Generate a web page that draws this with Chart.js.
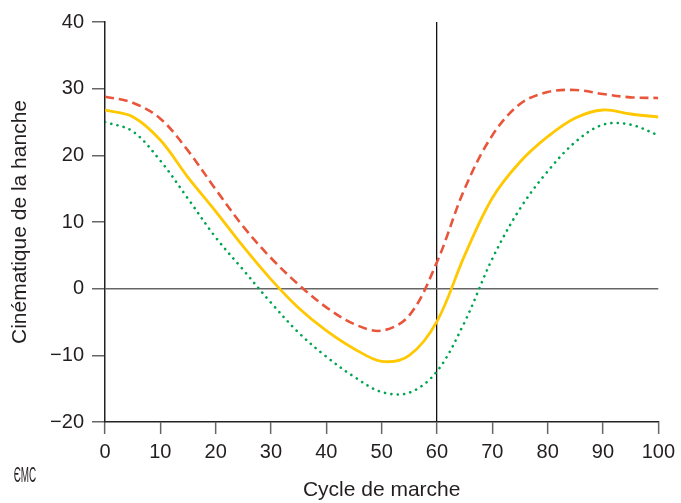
<!DOCTYPE html>
<html lang="fr">
<head>
    <meta charset="UTF-8">
    <title>Cinématique de la hanche</title>
    <script src="https://cdn.jsdelivr.net/npm/chart.js"></script>
    <style>
        html, body { margin: 0; padding: 0; background: #fff; }
        #wrap { width: 681px; height: 503px; }
    </style>
</head>
<body>
    <div id="wrap"><canvas id="hip-chart" width="681" height="503"></canvas></div>

    <script>
        // Cycle de marche (%)
        const cycle = [0, 5, 10, 15, 20, 25, 30, 35, 40, 45, 50, 55, 60, 65, 70, 75, 80, 85, 90, 95, 100];
        // courbe haute (tirets rouges)
        const upper = [28.8, 27.9, 25.5, 20.7, 14.9, 9.3, 4.6, 0.6, -2.8, -5.3, -6.3, -4.0, 4.0, 15.0, 23.0, 27.7, 29.5, 29.8, 29.2, 28.7, 28.6];
        // courbe moyenne (jaune)
        const middle = [26.8, 25.8, 22.3, 16.7, 11.6, 6.3, 1.4, -2.9, -6.3, -9.0, -10.9, -10.0, -4.9, 5.0, 13.6, 19.0, 22.8, 25.6, 26.8, 26.2, 25.75];
        // courbe basse (pointillés verts)
        const lower = [25.0, 23.6, 19.2, 13.5, 7.7, 2.8, -2.1, -6.6, -10.2, -13.2, -15.5, -15.6, -12.4, -5.0, 4.5, 12.0, 17.6, 22.0, 24.6, 24.6, 23.0];
        const yTicks = [-20, -10, 0, 10, 20, 30, 40];
        const xTicks = [0, 10, 20, 30, 40, 50, 60, 70, 80, 90, 100];

        const toPoints = arr => cycle.map((x, i) => ({ x: x, y: arr[i] }));
        const tickFont = { family: '"Liberation Sans", Arial, sans-serif', size: 20 };
        const titleFont = { family: '"Liberation Sans", Arial, sans-serif', size: 21 };

        // petit logo EMC en bas à gauche
        const logoPlugin = {
            id: 'logo',
            afterDraw(chart) {
                const c = chart.ctx;
                c.save();
                c.fillStyle = '#231f20';
                c.font = '22px "Liberation Sans", Arial, sans-serif';
                c.textAlign = 'center';
                c.textBaseline = 'middle';
                c.translate(25, 476);
                c.scale(0.45, 1);
                c.fillText('ЄMC', 0, 0);
                c.restore();
            }
        };

        new Chart(document.getElementById('hip-chart'), {
            type: 'line',
            data: {
                datasets: [
                    {
                        data: toPoints(upper),
                        borderColor: '#e8553a',
                        borderWidth: 2.6,
                        borderDash: [9, 5],
                        pointRadius: 0,
                        tension: 0.35
                    },
                    {
                        data: toPoints(middle),
                        borderColor: '#ffc800',
                        borderWidth: 2.8,
                        pointRadius: 0,
                        tension: 0.35
                    },
                    {
                        data: toPoints(lower),
                        borderColor: '#00a550',
                        borderWidth: 2.6,
                        borderDash: [0.1, 6.3],
                        borderCapStyle: 'round',
                        pointRadius: 0,
                        tension: 0.35
                    }
                ]
            },
            options: {
                responsive: false,
                animation: false,
                layout: { padding: { top: 22, right: 21, left: 0, bottom: 0 } },
                plugins: { legend: { display: false }, tooltip: { enabled: false } },
                scales: {
                    x: {
                        type: 'linear',
                        min: 0,
                        max: 100,
                        afterBuildTicks: s => { s.ticks = xTicks.map(v => ({ value: v })); },
                        afterFit: s => { s.height = 81; },
                        ticks: { font: tickFont, color: '#231f20', padding: 6, maxRotation: 0 },
                        grid: {
                            drawOnChartArea: true,
                            tickLength: 12,
                            tickColor: '#666',
                            tickWidth: 1.5,
                            color: ctx => ctx.tick && ctx.tick.value === 60 ? '#111' : 'rgba(0,0,0,0)',
                            lineWidth: 1.3
                        },
                        border: { display: true, color: '#222', width: 1.5 },
                        title: { display: true, text: 'Cycle de marche', font: titleFont, color: '#231f20', padding: { top: 4, bottom: 0 } }
                    },
                    y: {
                        min: -20,
                        max: 40,
                        afterBuildTicks: s => { s.ticks = yTicks.map(v => ({ value: v })); },
                        afterFit: s => { s.width = 105; },
                        ticks: { font: tickFont, color: '#231f20', padding: 8,
                            callback: v => v < 0 ? '\u2212' + Math.abs(v) : v },
                        grid: {
                            drawOnChartArea: true,
                            tickLength: 13,
                            tickColor: '#666',
                            tickWidth: 1.5,
                            color: ctx => ctx.tick && ctx.tick.value === 0 ? '#666' : 'rgba(0,0,0,0)',
                            lineWidth: 1.5
                        },
                        border: { display: true, color: '#222', width: 1.5 },
                        title: { display: true, text: 'Cinématique de la hanche', font: titleFont, color: '#231f20', padding: { top: 8, bottom: 0 } }
                    }
                }
            },
            plugins: [logoPlugin]
        });
    </script>
</body>
</html>
